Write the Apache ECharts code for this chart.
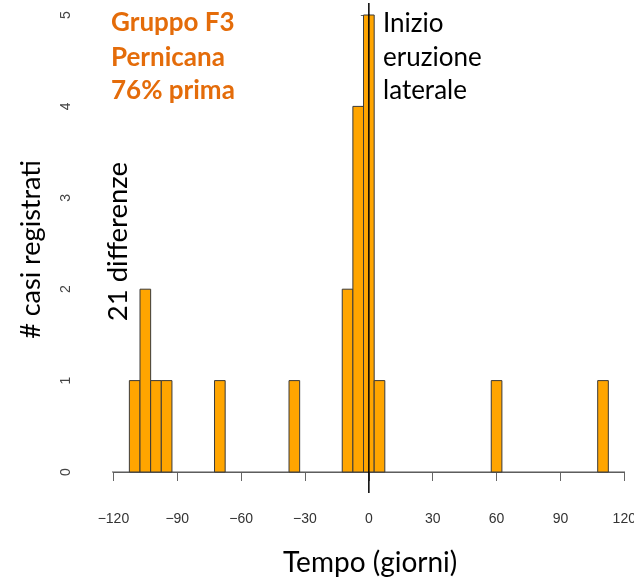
<!DOCTYPE html>
<html>
<head>
<meta charset="utf-8">
<script src="https://cdn.jsdelivr.net/npm/echarts@6/dist/echarts.min.js"></script>
<style>
  html, body { margin: 0; padding: 0; background: #ffffff; overflow: hidden; }
  #chart { width: 634px; height: 580px; }
</style>
</head>
<body>
<div id="chart"></div>
<script>
// Histogram of day differences relative to the start of the lateral eruption
const binWidth = 5;
const binCenters = [-110, -105, -100, -95, -70, -35, -10, -5, 0, 5, 60, 110];
const binCounts = [1, 2, 1, 1, 1, 1, 2, 4, 5, 1, 1, 1];
const breakRange = [-122.5, 122.5];
const xTicks = [-120, -90, -60, -30, 0, 30, 60, 90, 120];
const yTicks = [0, 1, 2, 3, 4, 5];
const eventDay = 0;
const eventLineSpan = [-0.23, 5.13];

const infoLines = ['Gruppo F3', 'Pernicana', '76% prima'];
const eventLabel = ['Inizio', 'eruzione', 'laterale'];
const totalLabel = binCounts.reduce((a, b) => a + b, 0) + ' differenze';

const chart = echarts.init(document.getElementById('chart'), null, { renderer: 'canvas' });

const barData = binCenters.map((c, i) => [c, binCounts[i]]);

const option = {
  animation: false,
  backgroundColor: '#ffffff',
  grid: { left: 113.4, right: 9.7, top: 15, bottom: 108, containLabel: false, outerBoundsMode: 'none' },
  xAxis: {
    type: 'value',
    min: xTicks[0],
    max: xTicks[xTicks.length - 1],
    interval: 30,
    offset: 19,
    axisLine: { show: true, lineStyle: { color: '#666', width: 1 } },
    axisTick: { show: true, length: 9, lineStyle: { color: '#666' } },
    axisLabel: {
      margin: 21, color: '#333', fontSize: 14,
      fontFamily: 'Liberation Sans',
      hideOverlap: false,
      showMaxLabel: true, showMinLabel: true,
      formatter: v => (v < 0 ? '\u2212' + Math.abs(v) : String(v))
    },
    splitLine: { show: false }
  },
  yAxis: {
    type: 'value',
    min: yTicks[0],
    max: yTicks[yTicks.length - 1],
    interval: 1,
    offset: 22,
    axisLine: { show: true, lineStyle: { color: '#666', width: 1 } },
    axisTick: { show: true, length: 8, lineStyle: { color: '#666' } },
    axisLabel: { margin: 18, rotate: 90, color: '#444', fontSize: 14, fontFamily: 'Liberation Sans' },
    splitLine: { show: false }
  },
  series: [
    {
      type: 'line',
      data: breakRange.map(x => [x, 0]),
      symbol: 'none',
      clip: false,
      lineStyle: { color: '#555', width: 1 },
      z: 1
    },
    {
      type: 'custom',
      data: barData,
      clip: false,
      renderItem: function (params, api) {
        const c = api.value(0);
        const h = api.value(1);
        const p0 = api.coord([c - binWidth / 2, h]);
        const p1 = api.coord([c + binWidth / 2, 0]);
        return {
          type: 'rect',
          shape: { x: p0[0], y: p0[1], width: p1[0] - p0[0], height: p1[1] - p0[1] },
          style: { fill: '#FFA500', stroke: '#3a3a3a', lineWidth: 1 }
        };
      },
      z: 2
    },
    {
      type: 'line',
      data: eventLineSpan.map(y => [eventDay, y]),
      symbol: 'none',
      clip: false,
      lineStyle: { color: '#000', width: 1.5 },
      z: 3
    }
  ],
  graphic: [
    ...infoLines.map((t, i) => ({
      type: 'text', left: 111, top: [9.3, 44.3, 77.6][i],
      style: { text: t, fill: '#E46C0A', font: 'bold 26px Lato' }
    })),
    ...eventLabel.map((t, i) => ({
      type: 'text', left: 383, top: [11, 44.3, 77.6][i],
      style: { text: t, fill: '#000', font: '26px Lato' }
    })),
    {
      type: 'text', left: 104, top: 162, rotation: Math.PI / 2,
      style: { text: totalLabel, fill: '#000', font: '27.5px Lato' }
    },
    {
      type: 'text', left: 18, top: 160, rotation: Math.PI / 2,
      style: { text: '# casi registrati', fill: '#000', font: '27px Lato' }
    },
    {
      type: 'text', left: 283, top: 549,
      style: { text: 'Tempo (giorni)', fill: '#000', font: '28px Lato' }
    }
  ]
};

chart.setOption(option);
</script>
</body>
</html>
